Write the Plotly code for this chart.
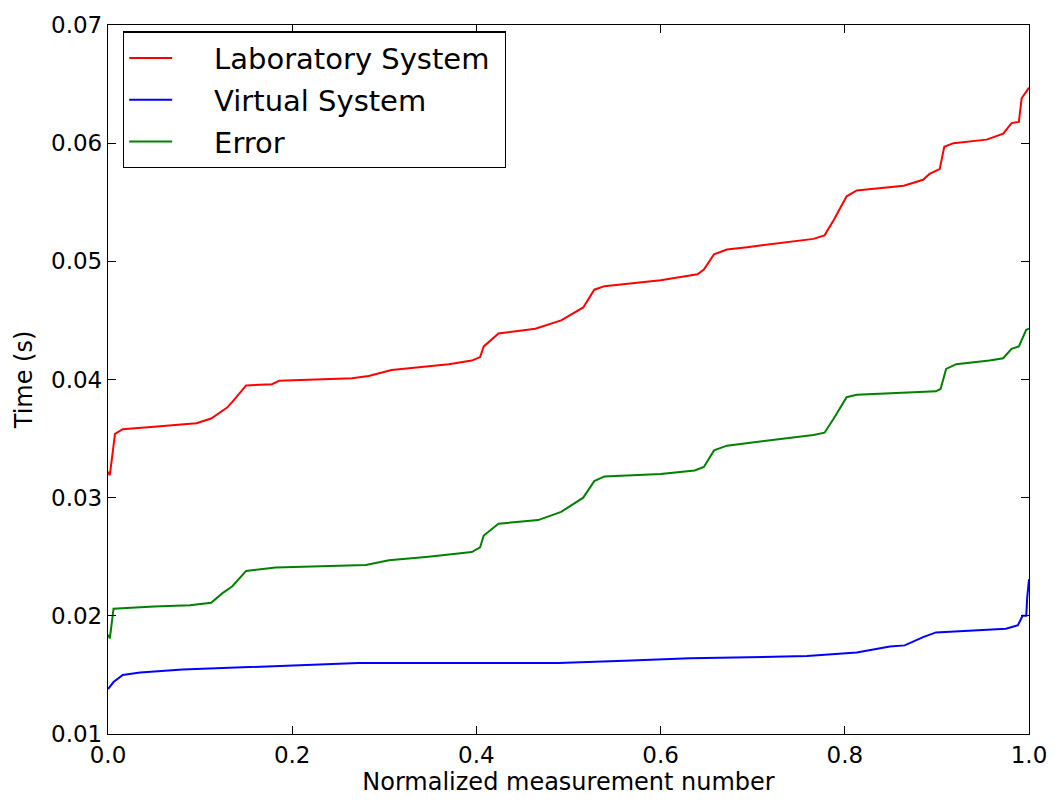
import plotly.graph_objects as go

lab_x = [0, 0.002, 0.0076, 0.016, 0.05, 0.096, 0.112, 0.129, 0.135, 0.150,
         0.178, 0.186, 0.265, 0.283, 0.308, 0.348, 0.370, 0.395, 0.404, 0.408,
         0.424, 0.464, 0.492, 0.516, 0.528, 0.539, 0.600, 0.640, 0.647, 0.658,
         0.672, 0.694, 0.766, 0.778, 0.788, 0.802, 0.813, 0.864, 0.885, 0.892,
         0.903, 0.908, 0.918, 0.954, 0.972, 0.981, 0.989, 0.992, 0.999, 1.0]
lab_y = [0.0322, 0.0319, 0.0354, 0.0358, 0.0360, 0.0363, 0.0367, 0.0376, 0.0381, 0.0395,
         0.0396, 0.0399, 0.0401, 0.0403, 0.0408, 0.0411, 0.0413, 0.0416, 0.0419, 0.0428,
         0.0439, 0.0443, 0.0450, 0.0461, 0.0476, 0.0479, 0.0484, 0.0489, 0.0493, 0.0506,
         0.0510, 0.0512, 0.0519, 0.0522, 0.0535, 0.0555, 0.0560, 0.0564, 0.0569, 0.0574,
         0.0578, 0.0597, 0.0600, 0.0603, 0.0608, 0.0617, 0.0618, 0.0638, 0.0646, 0.0647]

virt_x = [0, 0.006, 0.016, 0.035, 0.081, 0.172, 0.272, 0.388, 0.489, 0.561,
          0.632, 0.759, 0.813, 0.849, 0.865, 0.885, 0.899, 0.975, 0.988, 0.993,
          0.997, 0.998, 1.0]
virt_y = [0.0138, 0.0144, 0.0150, 0.0152, 0.01546, 0.0157, 0.0160, 0.0160, 0.0160, 0.0162,
          0.0164, 0.0166, 0.0169, 0.0174, 0.0175, 0.0182, 0.0186, 0.0189, 0.0192, 0.0200,
          0.0200, 0.0215, 0.0231]

err_x = [0, 0.002, 0.006, 0.05, 0.089, 0.112, 0.124, 0.135, 0.150, 0.182,
         0.280, 0.305, 0.348, 0.370, 0.395, 0.404, 0.408, 0.424, 0.467, 0.492,
         0.516, 0.528, 0.539, 0.600, 0.637, 0.647, 0.658, 0.672, 0.694, 0.766,
         0.778, 0.788, 0.802, 0.813, 0.899, 0.904, 0.910, 0.921, 0.957, 0.972,
         0.981, 0.989, 0.997, 1.0]
err_y = [0.0184, 0.0181, 0.0206, 0.0208, 0.0209, 0.0211, 0.0219, 0.0225, 0.0238, 0.0241,
         0.0243, 0.0247, 0.0250, 0.0252, 0.0254, 0.0258, 0.0268, 0.0278, 0.0281, 0.0288,
         0.0300, 0.0314, 0.0318, 0.0320, 0.0323, 0.0326, 0.0340, 0.0344, 0.0346, 0.0353,
         0.0355, 0.0367, 0.0385, 0.0387, 0.0390, 0.0392, 0.0409, 0.0413, 0.0416, 0.0418,
         0.0426, 0.0428, 0.0442, 0.0443]

x_ticks = [0.0, 0.2, 0.4, 0.6, 0.8, 1.0]
y_ticks = [0.01, 0.02, 0.03, 0.04, 0.05, 0.06, 0.07]

series = [
    ("Laboratory System", lab_x, lab_y, "#ff0000"),
    ("Virtual System", virt_x, virt_y, "#0000ff"),
    ("Error", err_x, err_y, "#008000"),
]

NBSP = "\u00a0"
fig = go.Figure()
for i, (name, xs, ys, col) in enumerate(series):
    fig.add_trace(go.Scatter(x=xs, y=ys, mode="lines", name=NBSP * 4 + name + NBSP,
                             legendgroup=f"g{i}",
                             line=dict(color=col, width=2)))

font_family = "DejaVu Sans"
axis_common = dict(
    showline=True, linecolor="black", linewidth=1.3, mirror="ticks",
    ticks="inside", ticklen=8, tickwidth=1.2, tickcolor="black",
    showgrid=False, zeroline=False,
    tickfont=dict(family=font_family, size=23, color="black"),
)

fig.update_layout(
    width=1059, height=801,
    margin=dict(l=108, r=26, t=19, b=63),
    paper_bgcolor="white", plot_bgcolor="white",
    font=dict(family=font_family, color="black"),
    showlegend=True,
    legend=dict(
        x=0.0162, y=0.991, xanchor="left", yanchor="top",
        bgcolor="white", bordercolor="black", borderwidth=1.3,
        font=dict(family=font_family, size=29, color="black"),
        tracegroupgap=1, traceorder="grouped",
        itemwidth=43,
    ),
    xaxis=dict(range=[0, 1], tickvals=x_ticks,
               ticktext=[f"{v:.1f}" for v in x_ticks],
               title=dict(text="Normalized measurement number",
                          font=dict(family=font_family, size=24), standoff=4),
               **axis_common),
    yaxis=dict(range=[0.01, 0.07], tickvals=y_ticks,
               ticktext=[f"{v:.2f}" for v in y_ticks],
               title=dict(text="Time (s)",
                          font=dict(family=font_family, size=24), standoff=11),
               **axis_common),
)

fig.write_html("out.html")
